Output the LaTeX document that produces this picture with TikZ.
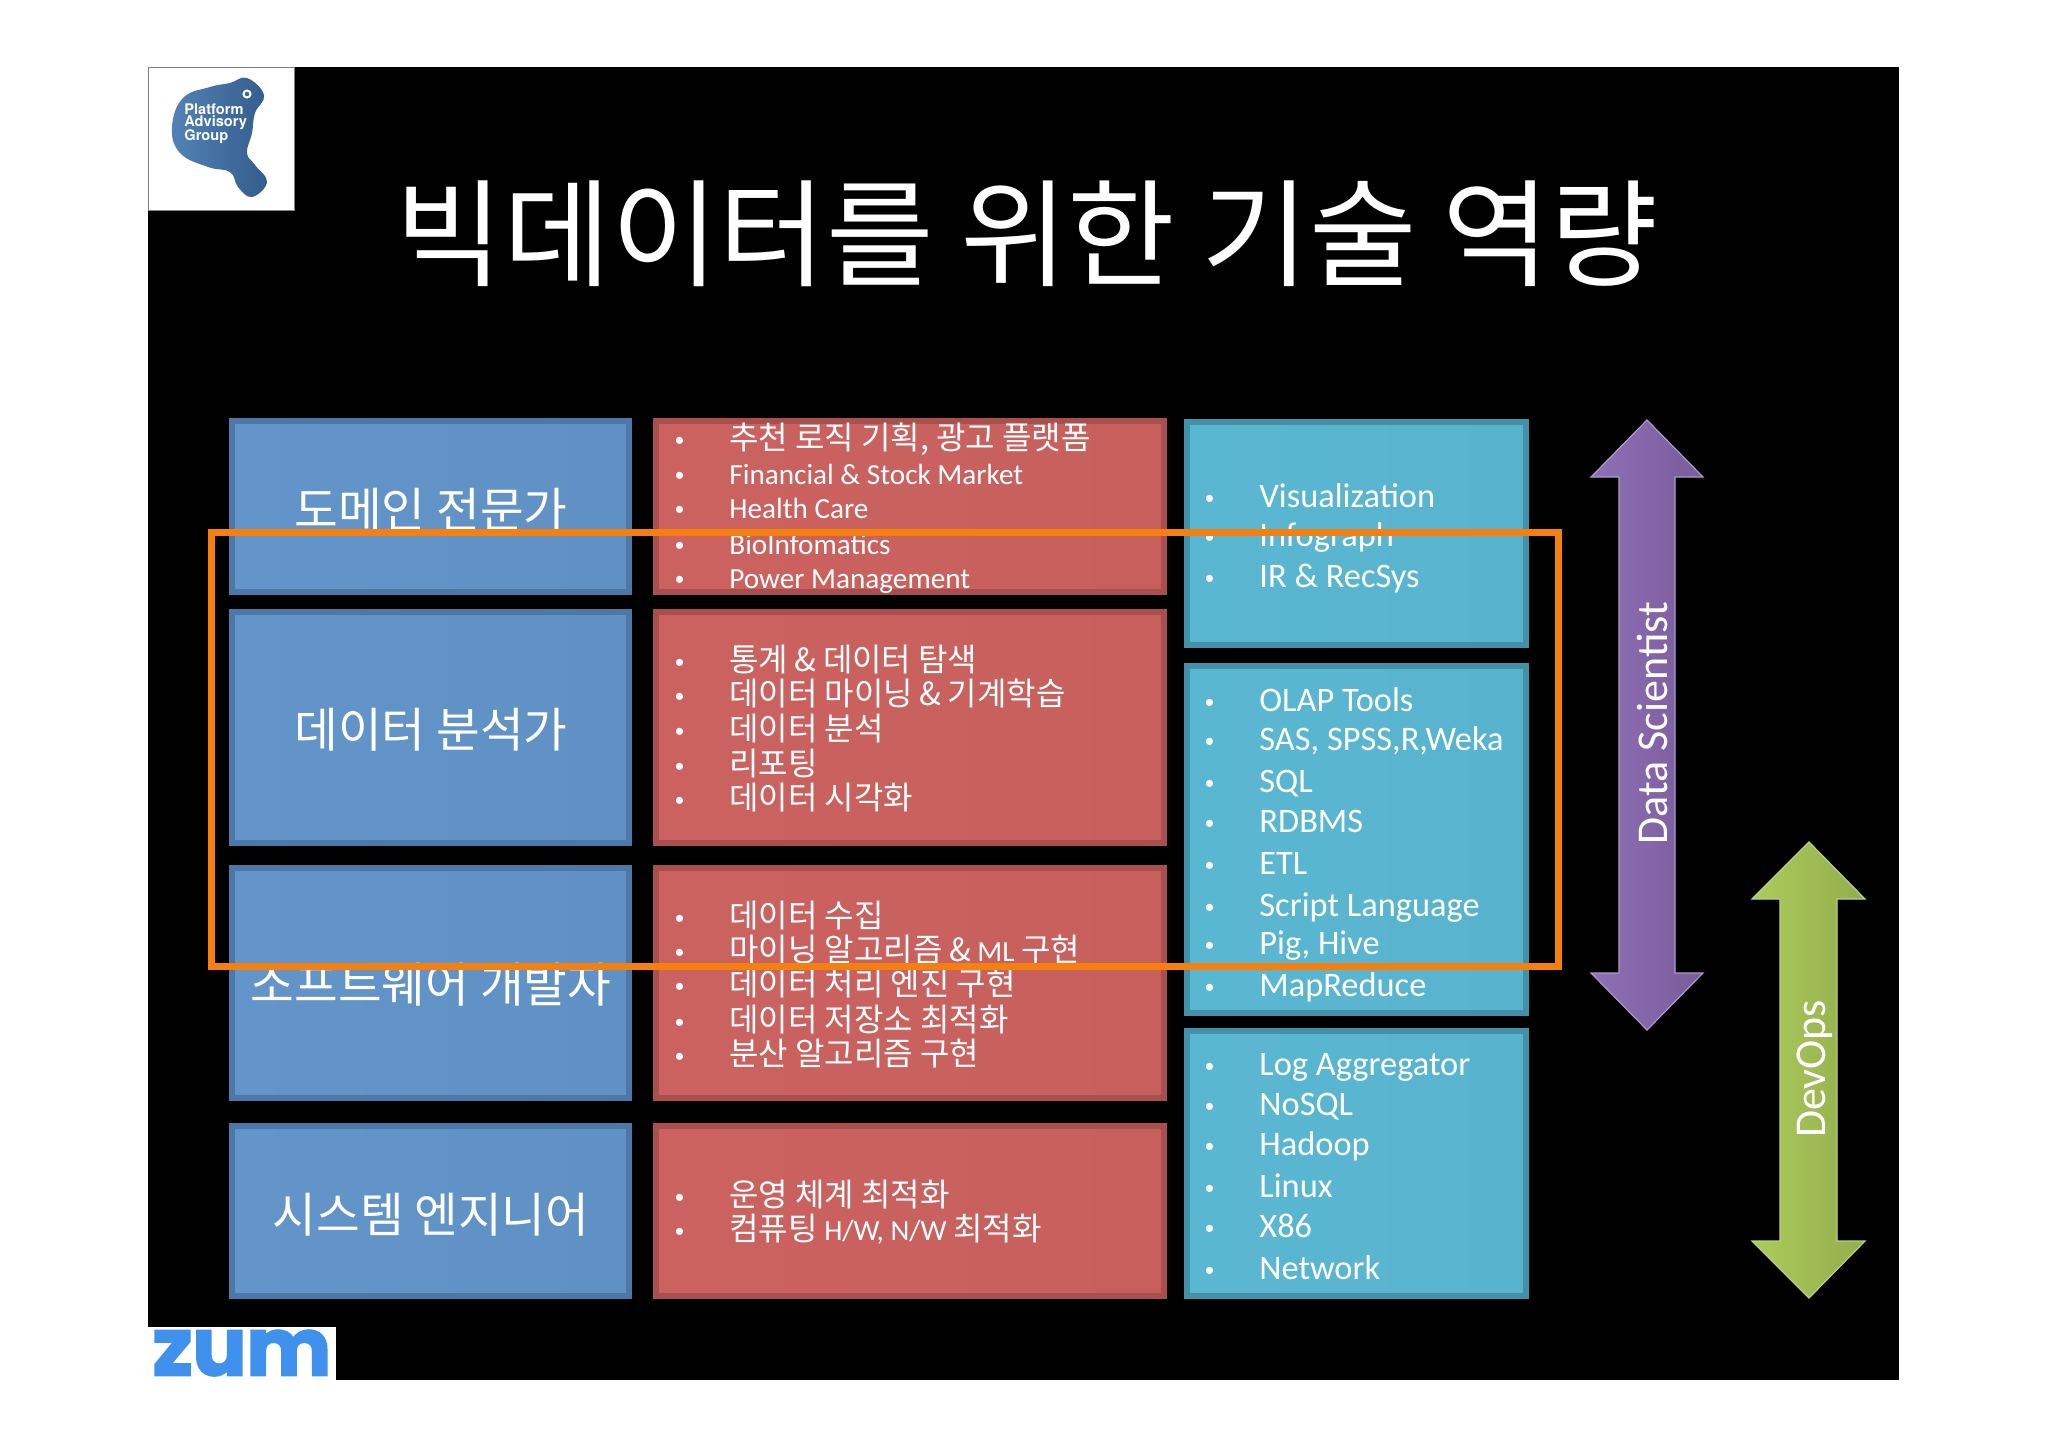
\documentclass[tikz,border=0pt]{standalone}
\usepackage{fontspec}
\usepackage{tikz}
\setmainfont{Carlito}
\newfontfamily\kofont[Scale=1.095]{Noto Sans CJK KR}
\newfontfamily\logofont{TeX Gyre Heros}
\newfontfamily\zumfont[BoldFeatures={FakeBold=2.5}]{Poppins}
\newcommand{\ko}[1]{{\kofont #1}}
\tikzset{
  bluebox/.style={draw=blueedge,line width=2.75pt,left color=bluefill,right color=bluefill!97!black},
  redbox/.style={draw=rededge,line width=2.75pt,left color=redfill,right color=redfill!98!black},
  tealbox/.style={draw=tealedge,line width=2.75pt,left color=tealfill,right color=tealfill!98!black},
  purplearrow/.style={draw=purpleedge,line width=0.6pt,left color=purpleleft,right color=purpleright},
  greenarrow/.style={draw=greenedge,line width=0.6pt,left color=greenleft,right color=greenright},
  headtext/.style={text=white,inner sep=0pt,yshift=-1.5pt,font=\fontsize{21.7}{24}\selectfont\kofont},
  logotext/.style={anchor=west,text=white,inner sep=0pt,font=\fontsize{7.3}{9}\selectfont\logofont\bfseries},
  item/.style={anchor=west,inner sep=0pt,yshift=-2pt,text=white,text height=10pt,text depth=3pt,
    label={[text=white,inner sep=0pt,label distance=22pt]left:•}},
  reditem/.style={item,font=\fontsize{14.6}{16}\selectfont},
  tealitem/.style={item,font=\fontsize{17.2}{18}\selectfont},
  sidetext/.style={text=white,inner sep=0pt,rotate=90,font=\fontsize{22}{24}\selectfont}
}
\definecolor{bluefill}{HTML}{6395CA}
\definecolor{blueedge}{HTML}{4C78A8}
\definecolor{redfill}{HTML}{CB625F}
\definecolor{rededge}{HTML}{A94F4D}
\definecolor{tealfill}{HTML}{5AB7D2}
\definecolor{tealedge}{HTML}{4291A8}
\definecolor{orangeline}{HTML}{F57F0F}
\definecolor{logoblue}{HTML}{3F74AE}
\definecolor{zumblue}{HTML}{4091EE}
\definecolor{purpleleft}{HTML}{9070B6}
\definecolor{purpleright}{HTML}{795B9B}
\definecolor{purpleedge}{HTML}{A99BC8}
\definecolor{greenleft}{HTML}{ACCB5C}
\definecolor{greenright}{HTML}{94AD4C}
\definecolor{greenedge}{HTML}{BBD27F}
\begin{document}
\begin{tikzpicture}[x=0.5pt,y=-0.5pt]
\useasboundingbox (0,0) rectangle (2048,1447);
\fill[white] (0,0) rectangle (2048,1447);
\fill[black] (148,67) rectangle (1899,1380);
\draw[gray,line width=0.4pt,fill=white] (148,67) rectangle (294,210);
\fill[white] (148,1327) rectangle (336,1380);

\path[left color=logoblue!90!white,right color=logoblue!80!black]
  plot[smooth cycle,tension=0.7] coordinates {(247,78) (264,95) (255,113) (252,133) (247,153) (255,165)
  (267,182) (252,197) (238,187) (230,172) (208,167) (180,153) (172,127) (183,98) (210,87) (230,83)};
\draw[white,line width=1pt] (247,94) circle (3.5);
\node (logoa) [logotext] at (184,109) {Platform};
\node (logob) [logotext] at (184,123) {Advisory};
\node (logoc) [logotext] at (184,137) {Group};
\node (zum) [text=zumblue,inner sep=0pt,font=\fontsize{40}{44}\selectfont\zumfont\bfseries] at (242,1353) {zum};

\node (title) [text=white,inner sep=0pt,font=\fontsize{53.4}{56}\selectfont\kofont] at (1027,234) {빅데이터를 위한 기술 역량};

\draw[bluebox] (232,421)rectangle(629,592);
\draw[bluebox] (232,612)rectangle(629,843);
\draw[bluebox] (232,868)rectangle(629,1098);
\draw[bluebox] (232,1126)rectangle(629,1296);
\draw[redbox] (656,421)rectangle(1164,592);
\draw[redbox] (656,612)rectangle(1164,843);
\draw[redbox] (656,868)rectangle(1164,1098);
\draw[redbox] (656,1126)rectangle(1164,1296);
\draw[tealbox] (1187,422)rectangle(1526,645);
\draw[tealbox] (1187,666)rectangle(1526,1013);
\draw[tealbox] (1187,1031)rectangle(1526,1296);

\node (domain) [headtext] at (431,507) {도메인 전문가};
\node (analyst) [headtext] at (431,727) {데이터 분석가};
\node (developer) [headtext] at (431,982) {소프트웨어 개발자};
\node (engineer) [headtext] at (431,1212) {시스템 엔지니어};

\node (rowaa) [reditem] at (729,438) {\ko{추천 로직 기획, 광고 플랫폼}};
\node (rowab) [reditem] at (729,473) {Financial \& Stock Market};
\node (rowac) [reditem] at (729,507) {Health Care};
\node (rowad) [reditem] at (729,543) {BioInfomatics};
\node (rowae) [reditem] at (729,577) {Power Management};
\node (rowba) [reditem] at (729,660) {\ko{통계} \ko{\&} \ko{데이터 탐색}};
\node (rowbb) [reditem] at (729,694) {\ko{데이터 마이닝} \ko{\&} \ko{기계학습}};
\node (rowbc) [reditem] at (729,729) {\ko{데이터 분석}};
\node (rowbd) [reditem] at (729,764) {\ko{리포팅}};
\node (rowbe) [reditem] at (729,798) {\ko{데이터 시각화}};
\node (rowca) [reditem] at (729,916) {\ko{데이터 수집}};
\node (rowcb) [reditem] at (729,950) {\ko{마이닝 알고리즘} \ko{\&} ML \ko{구현}};
\node (rowcc) [reditem] at (729,984) {\ko{데이터 처리 엔진 구현}};
\node (rowcd) [reditem] at (729,1020) {\ko{데이터 저장소 최적화}};
\node (rowce) [reditem] at (729,1054) {\ko{분산 알고리즘 구현}};
\node (rowda) [reditem] at (729,1195) {\ko{운영 체계 최적화}};
\node (rowdb) [reditem] at (729,1229) {\ko{컴퓨팅} H/W, N/W \ko{최적화}};

\node (toola) [tealitem] at (1259,496) {Visualization};
\node (toolb) [tealitem] at (1259,535) {Infograph};
\node (toolc) [tealitem] at (1259,576) {IR \& RecSys};
\node (toold) [tealitem] at (1259,700) {OLAP Tools};
\node (toole) [tealitem] at (1259,739) {SAS, SPSS,R,Weka};
\node (toolf) [tealitem] at (1259,781) {SQL};
\node (toolg) [tealitem] at (1259,821) {RDBMS};
\node (toolh) [tealitem] at (1259,863) {ETL};
\node (tooli) [tealitem] at (1259,905) {Script Language};
\node (toolj) [tealitem] at (1259,943) {Pig, Hive};
\node (toolk) [tealitem] at (1259,985) {MapReduce};
\node (tooll) [tealitem] at (1259,1064) {Log Aggregator};
\node (toolm) [tealitem] at (1259,1104) {NoSQL};
\node (tooln) [tealitem] at (1259,1144) {Hadoop};
\node (toolo) [tealitem] at (1259,1186) {Linux};
\node (toolp) [tealitem] at (1259,1226) {X86};
\node (toolq) [tealitem] at (1259,1268) {Network};

\path[purplearrow] (1647,420)--(1703,477)--(1675,477)--(1675,973)--(1703,973)--(1647,1030)
  --(1591,973)--(1619,973)--(1619,477)--(1591,477)--cycle;
\path[greenarrow] (1809,842)--(1865,899)--(1837,899)--(1837,1241)--(1865,1241)--(1809,1298)
  --(1752,1241)--(1780,1241)--(1780,899)--(1752,899)--cycle;
\node (scientist) [sidetext] at (1652,723) {Data Scientist};
\node (devops) [sidetext] at (1815,1069) {DevOps};

\draw[orangeline,line width=3.5pt] (211,532)rectangle(1558,966);
\end{tikzpicture}
\end{document}
